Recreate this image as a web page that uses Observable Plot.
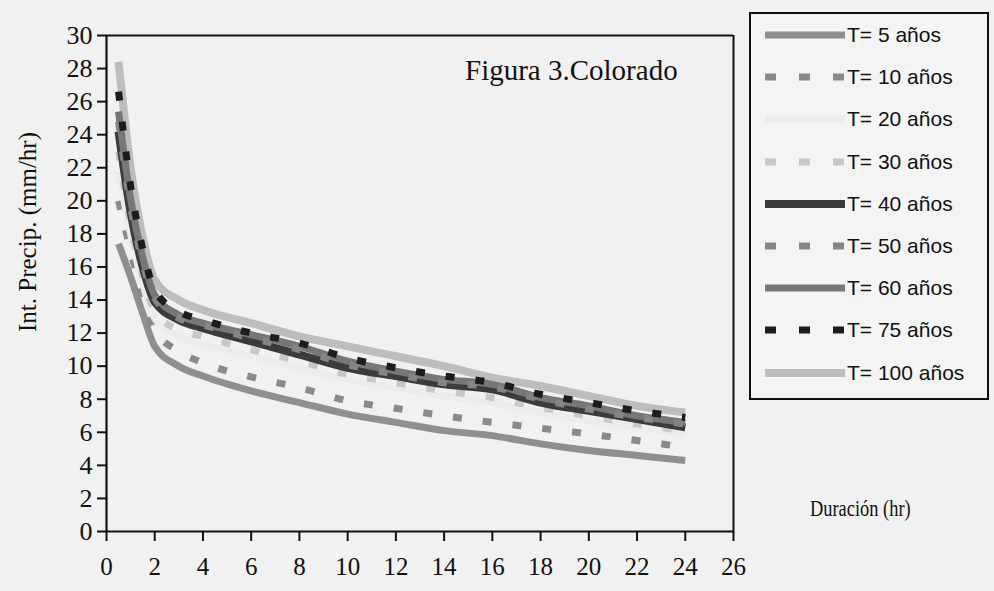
<!DOCTYPE html>
<html>
<head>
<meta charset="utf-8">
<script src="https://cdn.jsdelivr.net/npm/d3@7"></script>
<script src="https://cdn.jsdelivr.net/npm/@observablehq/plot@0.6"></script>
<style>
  html, body { margin: 0; padding: 0; background: #f1f1f1; }
  #wrap { position: relative; width: 994px; height: 591px; overflow: hidden; font-family: "Liberation Serif", "Times New Roman", serif; color: #111; }
  #wrap > svg { position: absolute; left: 0; top: 0; }
  .ov { position: absolute; white-space: nowrap; line-height: 1; }
  #legend { position: absolute; left: 749px; top: 12px; width: 236px; height: 384px; border: 2px solid #111; background: #f4f4f4; }
  .lrow { position: absolute; left: 14px; height: 26px; display: flex; align-items: center; font-family: "Liberation Sans", Arial, sans-serif; font-size: 21px; color: #111; }
  .lrow svg { display: block; margin-right: 2px; }
</style>
</head>
<body>
<div id="wrap"></div>
<script>
// ---- data ----
const durations = [0.5, 1, 1.5, 2, 3, 4, 6, 8, 10, 12, 14, 16, 18, 20, 22, 24];
const t5   = [17.4, 15.4, 13.2, 11.2, 10.0, 9.4, 8.5, 7.8, 7.1, 6.6, 6.1, 5.8, 5.3, 4.9, 4.6, 4.3];
const t10  = [20.0, 17.0, 14.2, 12.2, 10.9, 10.2, 9.35, 8.7, 7.9, 7.45, 7.0, 6.6, 6.25, 5.9, 5.5, 5.1];
const t20  = [21.8, 18.0, 15.0, 12.9, 11.8, 11.3, 10.6, 9.9, 9.2, 8.7, 8.2, 7.8, 7.2, 6.7, 6.3, 5.9];
const t30  = [23.0, 18.6, 15.5, 13.3, 12.2, 11.8, 11.0, 10.3, 9.5, 9.0, 8.5, 8.1, 7.5, 7.0, 6.5, 6.1];
const t40  = [24.2, 19.3, 16.0, 13.9, 12.8, 12.3, 11.5, 10.7, 9.9, 9.4, 8.9, 8.6, 7.8, 7.3, 6.8, 6.3];
const t50  = [24.8, 19.7, 16.3, 14.1, 12.9, 12.5, 11.7, 11.0, 10.1, 9.5, 9.0, 8.75, 8.0, 7.4, 6.9, 6.5];
const t60  = [25.4, 20.1, 16.6, 14.3, 13.1, 12.6, 11.9, 11.2, 10.3, 9.7, 9.2, 8.9, 8.1, 7.6, 7.0, 6.6];
const t75  = [26.6, 20.9, 17.1, 14.6, 13.3, 12.8, 12.0, 11.4, 10.5, 9.9, 9.4, 9.0, 8.3, 7.8, 7.3, 6.9];
const t100 = [28.4, 22.0, 17.8, 15.2, 14.0, 13.4, 12.6, 11.8, 11.2, 10.6, 10.0, 9.3, 8.8, 8.2, 7.6, 7.2];

const seriesNames = ["T= 5 años", "T= 10 años", "T= 20 años", "T= 30 años", "T= 40 años",
                     "T= 50 años", "T= 60 años", "T= 75 años", "T= 100 años"];
const seriesValues = [t5, t10, t20, t30, t40, t50, t60, t75, t100];
const xTicks = [0, 2, 4, 6, 8, 10, 12, 14, 16, 18, 20, 22, 24, 26];
const yTicks = [0, 2, 4, 6, 8, 10, 12, 14, 16, 18, 20, 22, 24, 26, 28, 30];
const titleText = "Figura 3.Colorado";
const xLabel = "Duración (hr)";
const yLabel = "Int. Precip. (mm/hr)";

// ---- styles per series ----
const styles = [
  {stroke: "#8f8f8f", width: 7, dash: null},
  {stroke: "#8a8a8a", width: 7, dash: "9,21"},
  {stroke: "#ececec", width: 7, dash: null},
  {stroke: "#c8c8c8", width: 7, dash: "9,21"},
  {stroke: "#3b3b3b", width: 8, dash: null},
  {stroke: "#858585", width: 7, dash: "9,21"},
  {stroke: "#777777", width: 7, dash: null},
  {stroke: "#1c1c1c", width: 7, dash: "9,21"},
  {stroke: "#bdbdbd", width: 8, dash: null}
];

const rows = [];
seriesNames.forEach((name, i) => {
  durations.forEach((d, j) => rows.push({serie: name, d, v: seriesValues[i][j]}));
});

const drawOrder = [8, 0, 1, 2, 3, 4, 6, 5, 7];
const lineMarks = drawOrder.map(i => Plot.line(rows.filter(r => r.serie === seriesNames[i]), {
  x: "d", y: "v", curve: "monotone-x",
  stroke: styles[i].stroke, strokeWidth: styles[i].width,
  strokeDasharray: styles[i].dash || undefined, strokeLinecap: "butt"
}));

const chart = Plot.plot({
  width: 994, height: 591,
  marginLeft: 106, marginRight: 261, marginTop: 35, marginBottom: 60,
  style: {background: "transparent", color: "#111"},
  x: {domain: [0, 26]},
  y: {domain: [0, 30]},
  marks: [
    ...lineMarks,
    Plot.ruleY([yTicks[yTicks.length - 1]], {stroke: "#111", strokeWidth: 2}),
    Plot.ruleX([xTicks[xTicks.length - 1]], {stroke: "#111", strokeWidth: 2}),
    Plot.ruleY([0], {stroke: "#111", strokeWidth: 2.2}),
    Plot.ruleX([0], {stroke: "#111", strokeWidth: 2.2}),
    Plot.axisY({ticks: yTicks, tickSize: 9, tickPadding: 5, label: null, tickFormat: d => String(d), strokeWidth: 2}),
    Plot.axisX({ticks: xTicks, tickSize: 10, tickPadding: 16, label: null, tickFormat: d => String(d), strokeWidth: 2})
  ]
});
const wrap = document.getElementById("wrap");
wrap.appendChild(chart);

// force serif, larger tick labels
const svgSel = d3.select(chart.tagName.toLowerCase() === "svg" ? chart : chart.querySelector("svg"));
svgSel.style("font-family", "'Liberation Serif', 'Times New Roman', serif");
svgSel.selectAll("text").each(function() {
  const el = this;
  let p = el.parentNode, anchor = null;
  while (p && p !== svgSel.node() && !anchor) { anchor = p.getAttribute && p.getAttribute("text-anchor"); p = p.parentNode; }
  anchor = el.getAttribute("text-anchor") || anchor;
  const size = anchor === "end" ? "26px" : "25px";
  el.style.setProperty("font-family", "'Liberation Serif', 'Times New Roman', serif", "important");
  el.style.setProperty("font-size", size, "important");
  el.style.setProperty("fill", "#111");
});

function ov(text, css) {
  const el = document.createElement("div");
  el.className = "ov";
  el.textContent = text;
  Object.assign(el.style, css);
  wrap.appendChild(el);
  return el;
}
ov(titleText, {left: "465px", top: "56px", fontSize: "29px"});
ov(xLabel, {left: "810px", top: "497px", fontSize: "23px", transform: "scaleX(0.8)", transformOrigin: "0 0"});
ov(yLabel, {left: "27px", top: "232px", fontSize: "25px", transform: "translate(-50%,-50%) rotate(-90deg)"});

// legend
const legend = document.createElement("div");
legend.id = "legend";
wrap.appendChild(legend);
seriesNames.forEach((name, i) => {
  const row = document.createElement("div");
  row.className = "lrow";
  row.style.top = (8 + i * 42.2) + "px";
  const s = styles[i];
  const svg = d3.create("svg").attr("width", 80).attr("height", 12);
  svg.append("line").attr("x1", 0).attr("x2", 80).attr("y1", 6).attr("y2", 6)
    .attr("stroke", s.stroke).attr("stroke-width", s.width)
    .attr("stroke-dasharray", s.dash ? "11,23" : null);
  row.appendChild(svg.node());
  const t = document.createElement("span");
  t.textContent = name;
  row.appendChild(t);
  legend.appendChild(row);
});
</script>
</body>
</html>
